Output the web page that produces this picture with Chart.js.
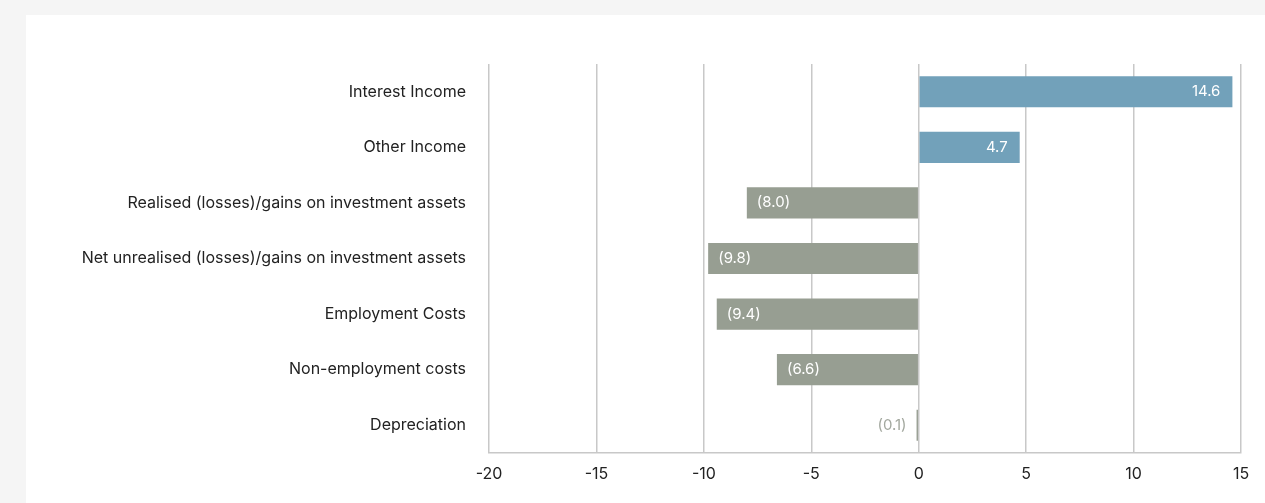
<!DOCTYPE html>
<html>
<head>
<meta charset="utf-8">
<script src="https://cdn.jsdelivr.net/npm/chart.js@4.4.1/dist/chart.umd.min.js"></script>
<style>
  html, body { margin: 0; padding: 0; background: #f5f5f5; width: 1265px; height: 503px; overflow: hidden; }
  #panel { position: absolute; left: 26px; top: 15px; width: 1239px; height: 488px; background: #ffffff; }
  #c { display: block; }
</style>
</head>
<body>
<div id="panel"><canvas id="c" width="1239" height="488"></canvas></div>
<script>
const categories = [
  "Interest Income",
  "Other Income",
  "Realised (losses)/gains on investment assets",
  "Net unrealised (losses)/gains on investment assets",
  "Employment Costs",
  "Non-employment costs",
  "Depreciation"
];
const values = [14.6, 4.7, -8.0, -9.8, -9.4, -6.6, -0.1];
const xTicks = [-20, -15, -10, -5, 0, 5, 10, 15];

const BLUE = '#72a1ba';
const GREY = '#979e92';
const FONT = 'Inter, "Liberation Sans", sans-serif';

function fmt(v) {
  const s = Math.abs(v).toFixed(1);
  return v < 0 ? '(' + s + ')' : s;
}

const valueLabels = {
  id: 'valueLabels',
  afterDatasetsDraw(chart) {
    const ctx = chart.ctx;
    const meta = chart.getDatasetMeta(0);
    ctx.save();
    ctx.font = '15px ' + FONT;
    ctx.textBaseline = 'middle';
    meta.data.forEach((bar, i) => {
      const v = values[i];
      const txt = fmt(v);
      const w = ctx.measureText(txt).width;
      const barW = Math.abs(bar.x - bar.base);
      const inside = barW > w + 20;
      if (v >= 0) {
        if (inside) { ctx.fillStyle = '#ffffff'; ctx.textAlign = 'right'; ctx.fillText(txt, bar.x - 12, bar.y); }
        else { ctx.fillStyle = BLUE; ctx.textAlign = 'left'; ctx.fillText(txt, bar.x + 10, bar.y); }
      } else {
        if (inside) { ctx.fillStyle = '#ffffff'; ctx.textAlign = 'left'; ctx.fillText(txt, bar.x + 10, bar.y); }
        else { ctx.fillStyle = '#a3a89f'; ctx.textAlign = 'right'; ctx.fillText(txt, bar.x - 10, bar.y); }
      }
    });
    ctx.restore();
  }
};

new Chart(document.getElementById('c'), {
  type: 'bar',
  data: {
    labels: categories,
    datasets: [{
      data: values,
      backgroundColor: values.map(v => v >= 0 ? BLUE : GREY),
      borderWidth: 0,
      barPercentage: 0.56,
      categoryPercentage: 1.0
    }]
  },
  options: {
    indexAxis: 'y',
    responsive: false,
    animation: false,
    devicePixelRatio: 1,
    layout: { padding: { left: 0, right: 24, top: 49, bottom: 0 } },
    plugins: { legend: { display: false }, tooltip: { enabled: false } },
    scales: {
      x: {
        type: 'linear',
        min: -20, max: 15,
        afterBuildTicks(scale) { scale.ticks = xTicks.map(v => ({ value: v })); },
        afterFit(scale) { scale.height = 50; },
        grid: { color: '#c8c8c8', lineWidth: 1.5, drawTicks: false },
        border: { display: true, color: '#c8c8c8', width: 1.5 },
        ticks: { color: '#222', font: { family: FONT, size: 16 }, padding: 12 }
      },
      y: {
        afterFit(scale) { scale.width = 463; },
        grid: { display: false, drawTicks: false },
        border: { display: false },
        ticks: { color: '#222', font: { family: FONT, size: 16 }, padding: 23 }
      }
    }
  },
  plugins: [valueLabels]
});
</script>
</body>
</html>
